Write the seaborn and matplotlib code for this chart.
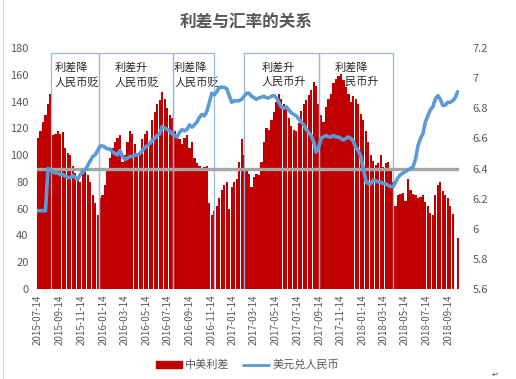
import numpy as np
import pandas as pd
import matplotlib
matplotlib.use("Agg")
import matplotlib.pyplot as plt
from matplotlib.patches import Patch
from matplotlib.lines import Line2D
import seaborn as sns

# 中美利差 (bp), weekly readings from 2015-07-14
spread = [113, 118, 125, 130, 138, 146, 115, 116, 118, 116,
          117, 105, 102, 100, 92, 87, 82, 80, 86, 88,
          85, 80, 70, 64, 55, 68, 70, 78, 88, 98,
          105, 110, 113, 115, 95, 100, 110, 118, 116, 108,
          102, 100, 112, 116, 118, 110, 126, 132, 138, 141,
          147, 142, 135, 130, 128, 118, 114, 112, 108, 113,
          115, 105, 110, 98, 94, 92, 90, 91, 92, 64,
          55, 58, 62, 68, 74, 78, 80, 60, 76, 80,
          82, 95, 112, 100, 90, 86, 76, 84, 86, 85,
          95, 110, 120, 119, 126, 132, 140, 146, 142, 138,
          135, 128, 122, 119, 118, 124, 133, 138, 141, 145,
          149, 155, 152, 138, 130, 125, 136, 142, 146, 154,
          157, 159, 161, 156, 151, 146, 140, 144, 142, 138,
          131, 126, 118, 110, 100, 96, 93, 94, 100, 91,
          94, 95, 89, 80, 62, 70, 71, 72, 66, 82,
          74, 71, 70, 68, 69, 70, 65, 62, 57, 55,
          70, 78, 80, 73, 70, 68, 62, 56, np.nan, 38]

# 美元兑人民币
rate = [6.12, 6.12, 6.12, 6.12, 6.40, 6.39, 6.38, 6.37, 6.37, 6.36,
        6.36, 6.35, 6.34, 6.34, 6.355, 6.34, 6.33, 6.36, 6.38, 6.39,
        6.42, 6.45, 6.48, 6.49, 6.52, 6.55, 6.55, 6.54, 6.53, 6.53,
        6.51, 6.50, 6.49, 6.52, 6.48, 6.46, 6.47, 6.48, 6.48, 6.49,
        6.49, 6.50, 6.52, 6.54, 6.55, 6.565, 6.59, 6.60, 6.62, 6.63,
        6.68, 6.67, 6.66, 6.65, 6.63, 6.62, 6.61, 6.64, 6.66, 6.65,
        6.66, 6.69, 6.675, 6.69, 6.71, 6.74, 6.76, 6.75, 6.78, 6.84,
        6.90, 6.89, 6.91, 6.94, 6.94, 6.94, 6.93, 6.885, 6.84, 6.85,
        6.85, 6.85, 6.86, 6.88, 6.90, 6.90, 6.88, 6.87, 6.86, 6.87,
        6.875, 6.88, 6.87, 6.87, 6.88, 6.885, 6.87, 6.84, 6.81, 6.80,
        6.81, 6.79, 6.77, 6.76, 6.75, 6.73, 6.71, 6.69, 6.66, 6.64,
        6.62, 6.58, 6.51, 6.54, 6.60, 6.61, 6.62, 6.61, 6.61, 6.62,
        6.61, 6.61, 6.60, 6.59, 6.60, 6.61, 6.60, 6.58, 6.54, 6.52,
        6.48, 6.40, 6.32, 6.30, 6.30, 6.32, 6.32, 6.31, 6.31, 6.30,
        6.30, 6.29, 6.28, 6.28, 6.31, 6.34, 6.36, 6.37, 6.38, 6.39,
        6.40, 6.41, 6.46, 6.55, 6.60, 6.63, 6.71, 6.75, 6.79, 6.81,
        6.86, 6.885, 6.86, 6.82, 6.82, 6.84, 6.84, 6.85, 6.87, 6.91]

start = pd.Timestamp("2015-07-14")
tick_dates = ["2015-07-14", "2015-09-14", "2015-11-14", "2016-01-14", "2016-03-14",
              "2016-05-14", "2016-07-14", "2016-09-14", "2016-11-14", "2017-01-14",
              "2017-03-14", "2017-05-14", "2017-07-14", "2017-09-14", "2017-11-14",
              "2018-01-14", "2018-03-14", "2018-05-14", "2018-07-14", "2018-09-14"]

# 区间标注 (左边界, 右边界, 文字起点, 文字), 单位: 周
boxes = [(5.2, 24.6, 6.8, "利差降\n人民币贬"), (24.6, 54.3, 31.0, "利差升\n人民币贬"),
         (54.3, 70.9, 54.8, "利差降\n人民币贬"), (82.9, 113.1, 90.2, "利差升\n人民币升"),
         (113.1, 142.9, 119.6, "利差降\n人民币升")]

df = pd.DataFrame({"week": np.arange(len(spread)), "spread": spread, "rate": rate})

sns.set_style("white")
plt.rcParams["font.family"] = ["Noto Sans CJK SC", "DejaVu Sans"]

gray = "#595959"
red = "#c00000"
blue = "#5b9bd5"

fig = plt.figure(figsize=(5.16, 3.79), dpi=100)
ax = fig.add_axes([0.0713, 0.2375, 0.818, 0.6355])

sns.barplot(data=df, x="week", y="spread", native_scale=True, color=red,
            saturation=1, width=0.9, linewidth=0, errorbar=None, ax=ax, zorder=2)

for x0, x1, xt, txt in boxes:
    ax.plot([x0, x0, x1, x1], [0, 176.5, 176.5, 0], color="#9fb6d6", lw=0.9, zorder=3)
    ax.text(xt, 169, txt, fontsize=8, color="#262626", va="top", ha="left",
            linespacing=1.4, zorder=1)

ax.set_ylim(0, 180)
ax.set_yticks(np.arange(0, 181, 20))
ax.set_xlim(-0.5, 169.5)
tick_pos = [(pd.Timestamp(d) - start).days / 7 for d in tick_dates]
ax.set_xticks(tick_pos)
ax.set_xticklabels(tick_dates, rotation=90, fontsize=7, color=gray)
ax.set_xlabel("")
ax.set_ylabel("")
ax.tick_params(axis="y", labelsize=8, colors=gray, length=0, pad=6)
ax.tick_params(axis="x", length=0, pad=4)

ax2 = ax.twinx()
ax2.axhline(6.4, color="#a5a5a5", lw=2.4, zorder=1)
sns.lineplot(data=df, x="week", y="rate", color=blue, lw=2.6, ax=ax2, zorder=2)
ax2.set_ylim(5.6, 7.2)
ax2.set_yticks(np.round(np.arange(5.6, 7.21, 0.2), 1))
ax2.set_yticklabels([f"{v:g}" for v in np.round(np.arange(5.6, 7.21, 0.2), 1)])
ax2.tick_params(axis="y", labelsize=8, colors=gray, length=0, pad=10)
ax2.set_ylabel("")
ax2.set_xlim(-0.5, 169.5)

for a in (ax, ax2):
    for s in a.spines.values():
        s.set_visible(False)

fig.suptitle("利差与汇率的关系", x=0.477, y=0.965, fontsize=12, fontweight="bold", color=gray)

handles = [Patch(color=red), Line2D([], [], color=blue, lw=2)]
fig.legend(handles, ["中美利差", "美元兑人民币"], loc="center", bbox_to_anchor=(0.48, 0.037),
           ncol=2, frameon=False, fontsize=8, handlelength=2.3, handleheight=0.6,
           handletextpad=0.3, columnspacing=1.2, labelcolor=gray)

fig.add_artist(Line2D([0.006, 0.006], [0, 1], color="#d9d9d9", lw=0.8))
fig.text(0.953, 0.005, "↵", fontsize=6, color=gray, family="DejaVu Sans")

fig.savefig("out.png", dpi=100)
